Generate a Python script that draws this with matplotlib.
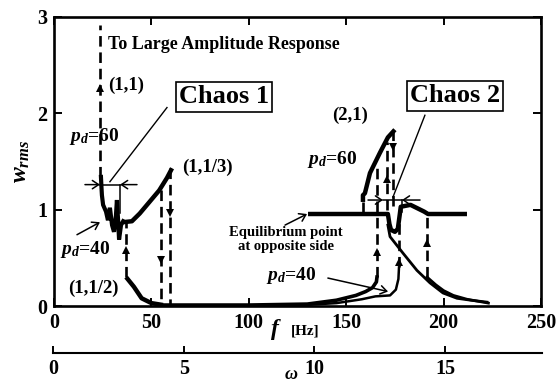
import matplotlib
matplotlib.use("Agg")
import matplotlib.pyplot as plt

plt.rcParams['font.family'] = ['Liberation Serif', 'DejaVu Serif']
plt.rcParams['font.weight'] = 'bold'
plt.rcParams['mathtext.fontset'] = 'custom'
plt.rcParams['mathtext.it'] = 'Liberation Serif:italic:bold'
plt.rcParams['mathtext.rm'] = 'Liberation Serif:bold'
plt.rcParams['mathtext.bf'] = 'Liberation Serif:bold'

# ---------------- data ----------------
x_ticks = [0, 50, 100, 150, 200, 250]
y_ticks = [0, 1, 2, 3]
omega_ticks = [0, 5, 10, 15]
omega_max = 18.7

chaos1_f = [24.1, 24.4, 24.6, 25.2, 26.7, 27.7, 28.7, 29.8, 30.8, 31.8, 32.3, 32.9, 33.4, 34.4, 35.5]
chaos1_w = [1.34, 1.22, 1.15, 1.05, 0.98, 0.89, 1.02, 0.84, 0.77, 0.94, 1.10, 0.89, 0.69, 0.84, 0.88]

third_f = [35.5, 40, 44, 49, 54, 58, 60.6]
third_w = [0.87, 0.88, 0.96, 1.08, 1.20, 1.33, 1.43]

half_f = [37, 41, 45, 50, 56]
half_w = [0.30, 0.20, 0.08, 0.03, 0.01]

pd40a_f = [56, 100, 130, 145, 155, 160, 163.5, 165.5, 165.8]
pd40a_w = [0.01, 0.01, 0.02, 0.06, 0.11, 0.15, 0.19, 0.25, 0.30]

pd40b_f = [120, 145, 158, 165, 172.5, 175.5, 176.8, 177.1]
pd40b_w = [0.00, 0.03, 0.07, 0.10, 0.11, 0.17, 0.28, 0.40]

eq_f = [130.4, 171.4, 172.2, 173, 175, 176.5, 177.5, 178, 183, 190, 192, 212]
eq_w = [0.955, 0.955, 0.85, 0.79, 0.77, 0.80, 0.95, 1.03, 1.05, 0.98, 0.955, 0.955]

dec1_f = [171.4, 172.5, 179.1, 186.3, 193, 199.7, 206.9, 214, 222.3]
dec1_w = [0.84, 0.72, 0.55, 0.37, 0.24, 0.135, 0.08, 0.06, 0.04]

dec2_f = [191.5, 196, 200, 205, 212, 223]
dec2_w = [0.30, 0.22, 0.16, 0.11, 0.07, 0.03]

two1_f = [158.6, 158.6, 159.6, 162.2, 167.3, 171.4, 175]
two1_w = [1.08, 1.15, 1.17, 1.38, 1.59, 1.75, 1.83]

# jumps: frequency, start, end, arrow position
jump_f = [23.6, 37.0, 54.9, 59.5, 158.6, 165.8, 170.9, 174.0, 177.1, 191.5]
jump_w0 = [1.34, 0.30, 1.20, 1.43, 1.08, 0.30, 1.00, 1.83, 0.40, 0.30]
jump_w1 = [2.92, 0.87, 0.00, 0.00, 0.955, 1.45, 1.70, 1.00, 0.955, 0.955]
jump_arrow = [2.26, 0.58, 0.48, 0.97, None, 0.56, 1.32, 1.65, 0.46, 0.65]

# ---------------- figure ----------------
fig = plt.figure(figsize=(5.59, 3.85), dpi=100)
ax = fig.add_axes([54/559, 79/385, 487/559, 289/385])
ax.set_xlim(0, 250)
ax.set_ylim(0, 3)

thick = dict(color='black', lw=3.2, solid_capstyle='butt', solid_joinstyle='round')
ax.plot(chaos1_f, chaos1_w, color='black', lw=3.0, solid_joinstyle='miter')
ax.plot(third_f, third_w, **thick)
ax.plot(half_f, half_w, **thick)
ax.plot(pd40a_f, pd40a_w, color='black', lw=2.6)
ax.plot(pd40b_f, pd40b_w, color='black', lw=1.8)
ax.plot(eq_f, eq_w, **thick)
ax.plot(dec1_f, dec1_w, color='black', lw=2.0)
ax.plot(dec2_f, dec2_w, color='black', lw=2.0)
ax.plot(two1_f, two1_w, **thick)

for f, w0, w1, wa in zip(jump_f, jump_w0, jump_w1, jump_arrow):
    ax.plot([f, f], [w0, w1], color='black', lw=1.9, dashes=(4.0, 2.2))
    if wa is not None:
        m = '^' if w1 > w0 else 'v'
        ax.plot([f], [wa], marker=m, color='black', ms=5.5, mew=0)

# chaos region markers
arr = dict(arrowstyle='->,head_length=0.45,head_width=0.3', color='black', lw=1.1, shrinkA=0, shrinkB=0)
ax.annotate('', xy=(23.6, 1.26), xytext=(15.9, 1.26), arrowprops=arr)
ax.annotate('', xy=(33.9, 1.26), xytext=(42.6, 1.26), arrowprops=arr)
ax.plot([23.6, 33.9], [1.26, 1.26], color='black', lw=1.1)
ax.plot([33.9, 33.9], [1.26, 0.97], color='black', lw=1.1)
ax.annotate('', xy=(168.9, 1.10), xytext=(161.2, 1.10), arrowprops=arr)
ax.annotate('', xy=(178.6, 1.10), xytext=(187.9, 1.10), arrowprops=arr)
ax.plot([168.9, 178.6], [1.10, 1.10], color='black', lw=1.1)
ax.plot([178.6, 178.6], [1.10, 0.98], color='black', lw=1.1)

# annotation lines
ax.plot([58, 28.7], [2.06, 1.29], color='black', lw=1.0)
ax.plot([190.4, 174], [1.98, 1.13], color='black', lw=1.0)
ax.annotate('', xy=(129.9, 0.955), xytext=(118.6, 0.84), arrowprops=arr)
ax.annotate('', xy=(23.6, 0.87), xytext=(11.8, 0.74), arrowprops=arr)
ax.annotate('', xy=(171.5, 0.15), xytext=(140.6, 0.29), arrowprops=arr)

# texts
ax.text(27.7, 2.71, 'To Large Amplitude Response', fontsize=13, ha='left', va='center')
ax.text(27.7, 2.29, '(1,1)', fontsize=13.5, ha='left', va='center')
box = dict(boxstyle='square,pad=0.12', fc='white', ec='black', lw=1.2)
ax.text(87.3, 2.17, 'Chaos 1', fontsize=19, ha='center', va='center', bbox=box)
ax.text(205.8, 2.18, 'Chaos 2', fontsize=19, ha='center', va='center', bbox=box)
ax.text(152, 1.98, '(2,1)', fontsize=13.5, ha='center', va='center')
ax.text(143, 1.52, r'$p_d$=60', fontsize=14, ha='center', va='center')
ax.text(20.5, 1.76, r'$p_d$=60', fontsize=14, ha='center', va='center')
ax.text(79, 1.44, '(1,1/3)', fontsize=13.5, ha='center', va='center')
ax.text(16, 0.59, r'$p_d$=40', fontsize=14, ha='center', va='center')
ax.text(20, 0.18, '(1,1/2)', fontsize=13.5, ha='center', va='center')
ax.text(119, 0.69, 'Equilibrium point\nat opposite side', fontsize=10.5, ha='center', va='center', linespacing=1.05)
ax.text(121.7, 0.32, r'$p_d$=40', fontsize=14, ha='center', va='center')

# axes styling
for s in ax.spines.values():
    s.set_linewidth(1.9)
ax.set_xticks(x_ticks)
ax.set_yticks(y_ticks)
ax.tick_params(direction='in', length=6, width=1.4, top=True, right=True, labelsize=14.5, pad=5)
for lab in ax.get_xticklabels() + ax.get_yticklabels():
    lab.set_fontweight('bold')

ax.text(-0.045, 0.5, r'$w_{rms}$', transform=ax.transAxes, rotation=90, fontsize=17, ha='right', va='center')
fig.text(276/559, (385-330)/385, r'$f$', fontsize=17, ha='center', va='center')
fig.text(305/559, (385-331)/385, '[Hz]', fontsize=11, ha='center', va='center')

# secondary omega axis
ax2 = fig.add_axes([53/559, (385-353)/385, 489/559, 0.0001])
ax2.set_xlim(0, omega_max)
for k in ['top', 'left', 'right']:
    ax2.spines[k].set_visible(False)
ax2.spines['bottom'].set_linewidth(1.5)
ax2.set_yticks([])
ax2.set_xticks(omega_ticks)
ax2.tick_params(direction='in', length=5, width=1.4, labelsize=14.5, pad=4)
ax2.patch.set_visible(False)
for xe in [0, omega_max]:
    ax2.plot([xe, xe], [0, 1], transform=ax2.get_xaxis_transform(), color='black', lw=1.4, clip_on=False)
ax2.set_ylim(0, 1)
fig.text(291/559, 2/385, r'$\omega$', fontsize=13, ha='center', va='bottom')

fig.savefig('out.png', dpi=100)
